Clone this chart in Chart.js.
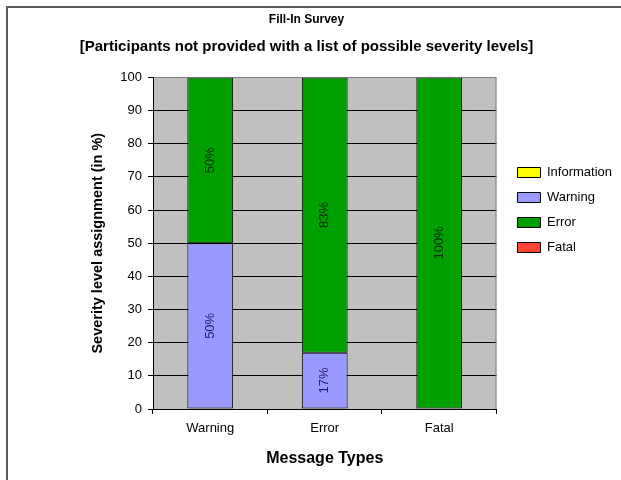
<!DOCTYPE html>
<html>
<head>
<meta charset="utf-8">
<script src="https://cdn.jsdelivr.net/npm/chart.js@4/dist/chart.umd.min.js"></script>
<style>
  body { margin: 0; background: #fff; }
  #wrap { width: 621px; height: 480px; }
</style>
</head>
<body>
<div id="wrap"><canvas id="surveyChart" width="621" height="480"></canvas></div>
<script>
// categories and values (percent of participants)
const messageTypes = ["Warning", "Error", "Fatal"];
const informationVals = [0, 0, 0];
const warningVals = [50, 17, 0];
const errorVals = [50, 83, 100];
const fatalVals = [0, 0, 0];

const fontFamily = "'Liberation Sans', Arial, sans-serif";
Chart.defaults.font.family = fontFamily;
Chart.defaults.color = "#000";

// grey plot background + frame lines
const plotBackground = {
  id: "plotBackground",
  beforeDraw(chart) {
    const { ctx, chartArea } = chart;
    ctx.save();
    ctx.fillStyle = "#fff";
    ctx.fillRect(0, 0, chart.width, chart.height);
    ctx.fillStyle = "#c0c0c0";
    ctx.fillRect(chartArea.left, chartArea.top, chartArea.right - chartArea.left, chartArea.bottom - chartArea.top);
    // outer frame (left + top only)
    ctx.fillStyle = "#5a5a5a";
    ctx.fillRect(6, 6, 2, chart.height - 6);
    ctx.fillRect(6, 6, chart.width - 6, 2);
    ctx.restore();
  },
  afterDraw(chart) {
    const { ctx, chartArea } = chart;
    ctx.save();
    ctx.strokeStyle = "#808080";
    ctx.lineWidth = 1;
    ctx.beginPath();
    ctx.moveTo(chartArea.right - 0.5, chartArea.top);
    ctx.lineTo(chartArea.right - 0.5, chartArea.bottom);
    ctx.stroke();
    ctx.restore();
  }
};

// rotated percent labels inside the bars
const barLabels = {
  id: "barLabels",
  afterDatasetsDraw(chart) {
    const { ctx } = chart;
    ctx.save();
    ctx.font = "13px " + fontFamily;
    ctx.textAlign = "center";
    ctx.textBaseline = "middle";
    chart.data.datasets.forEach((ds, i) => {
      const meta = chart.getDatasetMeta(i);
      meta.data.forEach((bar, j) => {
        const v = ds.data[j];
        if (!v) return;
        const cy = (bar.y + bar.base) / 2;
        ctx.save();
        ctx.translate(bar.x, cy);
        ctx.rotate(-Math.PI / 2);
        ctx.fillStyle = ds.labelColor;
        ctx.fillText(v + "%", 0, 0);
        ctx.restore();
      });
    });
    ctx.restore();
  }
};

// legend is full height by default: move it down and a little away from the plot
const legendShift = {
  id: "legendShift",
  afterLayout(chart) {
    const lg = chart.legend;
    if (lg) {
      lg.left += 9;
      lg.right += 9;
      lg.top += 154;
      lg.bottom += 154;
    }
  }
};

const ctx = document.getElementById("surveyChart").getContext("2d");
new Chart(ctx, {
  type: "bar",
  data: {
    labels: messageTypes,
    datasets: [
      { label: "Information", data: informationVals, backgroundColor: "#ffff00", labelColor: "#000" },
      { label: "Warning", data: warningVals, backgroundColor: "#9999ff", labelColor: "#1c1c70" },
      { label: "Error", data: errorVals, backgroundColor: "#00a000", labelColor: "#0a2a0a" },
      { label: "Fatal", data: fatalVals, backgroundColor: "#ff4433", labelColor: "#000" }
    ]
  },
  options: {
    responsive: false,
    animation: false,
    layout: { padding: { left: 0, right: 8, top: 0, bottom: 0 } },
    datasets: {
      bar: {
        borderColor: "#000",
        borderWidth: 1,
        borderSkipped: false,
        categoryPercentage: 1,
        barPercentage: 0.4
      }
    },
    plugins: {
      title: {
        display: true,
        text: "Fill-In Survey",
        font: { size: 12, weight: "bold" },
        padding: { top: 12, bottom: 6 }
      },
      subtitle: {
        display: true,
        text: "[Participants not provided with a list of possible severity levels]",
        color: "#000",
        font: { size: 15, weight: "bold" },
        padding: { top: 5, bottom: 22 }
      },
      legend: {
        position: "right",
        align: "start",
        labels: {
          boxWidth: 23,
          boxHeight: 10,
          padding: 12,
          font: { size: 13 },
          color: "#000"
        }
      },
      tooltip: { enabled: false }
    },
    scales: {
      x: {
        stacked: true,
        afterFit(scale) { scale.height = 71; },
        grid: {
          display: true,
          drawOnChartArea: false,
          drawTicks: true,
          tickLength: 5,
          color: "#000"
        },
        border: { color: "#000" },
        ticks: { font: { size: 13 }, padding: 7, color: "#000" },
        title: {
          display: true,
          text: "Message Types",
          font: { size: 16, weight: "bold" },
          padding: { top: 0, bottom: 12 }
        }
      },
      y: {
        stacked: true,
        min: 0,
        max: 100,
        afterFit(scale) { scale.width = 153; },
        grid: {
          color: (c) => (c.tick && c.tick.value === 100 ? "#808080" : "#000"),
          tickColor: "#000",
          tickLength: 5
        },
        border: { color: "#000" },
        ticks: { stepSize: 10, font: { size: 13 }, padding: 6, color: "#000" },
        title: {
          display: true,
          text: "Severity level assignment (in %)",
          font: { size: 14.5, weight: "bold" },
          padding: { top: 89, bottom: 0 }
        }
      }
    }
  },
  plugins: [plotBackground, barLabels, legendShift]
});
</script>
</body>
</html>
